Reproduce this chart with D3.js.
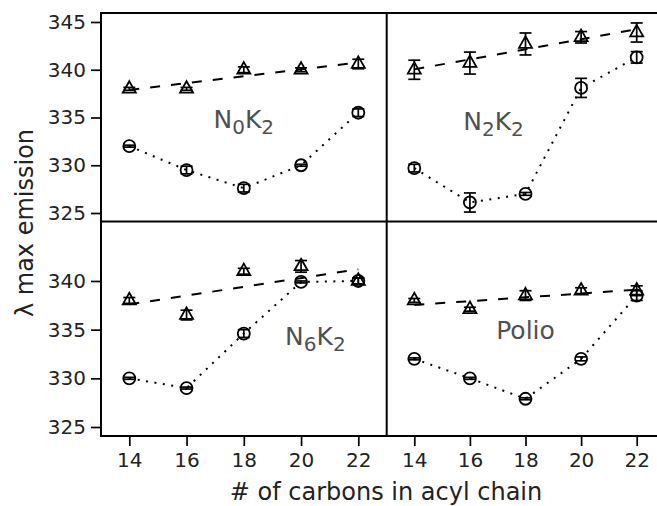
<!DOCTYPE html>
<html>
<head>
<meta charset="utf-8">
<script src="https://cdn.jsdelivr.net/npm/d3@7"></script>
<style>
  html, body { margin: 0; padding: 0; background: #fff; }
  svg { display: block; font-family: "DejaVu Sans", Verdana, sans-serif; }
</style>
</head>
<body>
<svg id="chart" width="657" height="506"></svg>
<script>
// Chain length (number of carbons in the acyl chain)
const carbons = [14, 16, 18, 20, 22];
const xTicks = [14, 16, 18, 20, 22];
const yTicksTop = [325, 330, 335, 340, 345];
const yTicksBottom = [325, 330, 335, 340];

// N0K2
const n0k2Tri     = [338.0, 338.0, 340.0, 340.0, 340.6];
const n0k2TriErr  = [0.15, 0.15, 0.3, 0.2, 0.5];
const n0k2Circ    = [332.0, 329.5, 327.6, 330.0, 335.5];
const n0k2CircErr = [0.1, 0.4, 0.4, 0.1, 0.4];

// N2K2
const n2k2Tri     = [340.0, 340.7, 342.7, 343.4, 343.9];
const n2k2TriErr  = [1.0, 1.15, 1.15, 0.6, 1.0];
const n2k2Circ    = [329.7, 326.1, 327.0, 338.1, 341.3];
const n2k2CircErr = [0.4, 1.0, 0.15, 1.0, 0.6];

// N6K2
const n6k2Tri     = [338.0, 336.5, 341.0, 341.5, 340.0];
const n6k2TriErr  = [0.3, 0.5, 0.3, 0.6, 0.3];
const n6k2Circ    = [330.0, 329.0, 334.6, 339.9, 340.0];
const n6k2CircErr = [0.1, 0.1, 0.4, 0.1, 0.3];

// Polio
const polioTri     = [338.0, 337.1, 338.5, 339.0, 339.0];
const polioTriErr  = [0.2, 0.2, 0.5, 0.3, 0.5];
const polioCirc    = [332.0, 330.0, 327.9, 332.0, 338.5];
const polioCircErr = [0.1, 0.1, 0.1, 0.2, 0.5];

const svg = d3.select("#chart");

// Frame geometry of the 2x2 lattice
const frameL = 101, frameMidX = 386.7, frameR = 665;
const frameT = 13, frameMidY = 221.5, frameB = 436;

const xLeft  = d3.scaleLinear().domain([14, 22]).range([129.3, 358.3]);
const xRight = d3.scaleLinear().domain([14, 22]).range([414.3, 636.7]);
const yTop    = d3.scaleLinear().domain([325, 345]).range([213, 22]);
const yBottom = d3.scaleLinear().domain([325, 345]).range([427, 232.3]);

const panels = [
  { name: ["N", "0", "K", "2"], x: xLeft,  y: yTop,    tri: n0k2Tri,  triErr: n0k2TriErr,  circ: n0k2Circ,  circErr: n0k2CircErr,  lx: 18.0, ly: 333.9 },
  { name: ["N", "2", "K", "2"], x: xRight, y: yTop,    tri: n2k2Tri,  triErr: n2k2TriErr,  circ: n2k2Circ,  circErr: n2k2CircErr,  lx: 16.85, ly: 333.7 },
  { name: ["N", "6", "K", "2"], x: xLeft,  y: yBottom, tri: n6k2Tri,  triErr: n6k2TriErr,  circ: n6k2Circ,  circErr: n6k2CircErr,  lx: 20.5, ly: 333.4 },
  { name: ["Polio"],            x: xRight, y: yBottom, tri: polioTri, triErr: polioTriErr, circ: polioCirc, circErr: polioCircErr, lx: 18.0, ly: 334.0 }
];

// Least-squares line through the triangle series
function fit(xs, ys) {
  const mx = d3.mean(xs), my = d3.mean(ys);
  const sxy = d3.sum(xs, (x, i) => (x - mx) * (ys[i] - my));
  const sxx = d3.sum(xs, x => (x - mx) * (x - mx));
  const b = sxy / sxx;
  return x => my + b * (x - mx);
}

const triPath = (w, h) => `M0,${-2 * h / 3}L${w / 2},${h / 3}L${-w / 2},${h / 3}Z`;
const capHalf = 6;

panels.forEach(p => {
  const g = svg.append("g");

  // fitted dashed line for triangles
  const f = fit(carbons, p.tri);
  const x0 = carbons[0], x1 = carbons[carbons.length - 1];
  g.append("line")
    .attr("x1", p.x(x0)).attr("y1", p.y(f(x0)))
    .attr("x2", p.x(x1)).attr("y2", p.y(f(x1)))
    .attr("stroke", "#000").attr("stroke-width", 2)
    .attr("stroke-dasharray", "10,11");

  // dotted connecting line for circles
  const line = d3.line().x((d, i) => p.x(carbons[i])).y(d => p.y(d));
  g.append("path")
    .attr("d", line(p.circ))
    .attr("fill", "none").attr("stroke", "#000").attr("stroke-width", 2)
    .attr("stroke-dasharray", "2,6.5");

  // error bars
  const drawErr = (vals, errs) => {
    vals.forEach((v, i) => {
      const cx = p.x(carbons[i]);
      const ya = p.y(v - errs[i]), yb = p.y(v + errs[i]);
      g.append("line").attr("x1", cx).attr("x2", cx).attr("y1", ya).attr("y2", yb)
        .attr("stroke", "#000").attr("stroke-width", 1.7);
      [ya, yb].forEach(yy => g.append("line")
        .attr("x1", cx - capHalf).attr("x2", cx + capHalf).attr("y1", yy).attr("y2", yy)
        .attr("stroke", "#000").attr("stroke-width", 1.7));
    });
  };
  drawErr(p.tri, p.triErr);
  drawErr(p.circ, p.circErr);

  // open triangles
  g.selectAll(null).data(p.tri).join("path")
    .attr("transform", (d, i) => `translate(${p.x(carbons[i])},${p.y(d)})`)
    .attr("d", triPath(13, 11.5))
    .attr("fill", "none").attr("stroke", "#000").attr("stroke-width", 1.8);

  // open circles
  g.selectAll(null).data(p.circ).join("circle")
    .attr("cx", (d, i) => p.x(carbons[i])).attr("cy", d => p.y(d)).attr("r", 6)
    .attr("fill", "none").attr("stroke", "#000").attr("stroke-width", 1.8);

  // panel label
  const t = g.append("text")
    .attr("x", p.x(p.lx)).attr("y", p.y(p.ly))
    .attr("text-anchor", "middle").attr("fill", "#505050")
    .style("font-size", "25px");
  p.name.forEach((s, i) => {
    const sub = p.name.length > 1 && i % 2 === 1;
    t.append("tspan").text(s)
      .attr("dy", sub ? 6 : (i === 0 ? 0 : -6))
      .style("font-size", sub ? "20px" : "25px");
  });
});

// lattice frame
const frame = svg.append("g").attr("stroke", "#000").attr("stroke-width", 2).attr("fill", "none");
frame.append("rect").attr("x", frameL).attr("y", frameT).attr("width", frameR - frameL).attr("height", frameB - frameT);
frame.append("line").attr("x1", frameMidX).attr("x2", frameMidX).attr("y1", frameT).attr("y2", frameB);
frame.append("line").attr("x1", frameL).attr("x2", frameR).attr("y1", frameMidY).attr("y2", frameMidY);

// y axes on the left column
[[yTop, yTicksTop], [yBottom, yTicksBottom]].forEach(([ys, tv]) => {
  svg.append("g")
    .attr("transform", `translate(${frameL},0)`)
    .call(d3.axisLeft(ys).tickValues(tv).tickSize(10).tickPadding(5).tickSizeOuter(0))
    .call(a => a.select(".domain").remove())
    .call(a => a.selectAll("line").attr("stroke", "#000").attr("stroke-width", 1.7))
    .call(a => a.selectAll("text").attr("fill", "#222").style("font-size", "20px"))
    .attr("font-family", null).attr("font-size", null);
});

// x axes on the bottom row
[xLeft, xRight].forEach(xs => {
  svg.append("g")
    .attr("transform", `translate(0,${frameB})`)
    .call(d3.axisBottom(xs).tickValues(xTicks).tickSize(10).tickPadding(7).tickSizeOuter(0))
    .call(a => a.select(".domain").remove())
    .call(a => a.selectAll("line").attr("stroke", "#000").attr("stroke-width", 1.7))
    .call(a => a.selectAll("text").attr("fill", "#222").style("font-size", "20px"))
    .attr("font-family", null).attr("font-size", null);
});

// axis titles
svg.append("text")
  .attr("x", 386).attr("y", 500)
  .attr("text-anchor", "middle").attr("fill", "#222")
  .style("font-size", "24px")
  .text("# of carbons in acyl chain");

svg.append("text")
  .attr("transform", "translate(33,223) rotate(-90)")
  .attr("text-anchor", "middle").attr("fill", "#222")
  .style("font-size", "24px")
  .text("λ max emission");
</script>
</body>
</html>
